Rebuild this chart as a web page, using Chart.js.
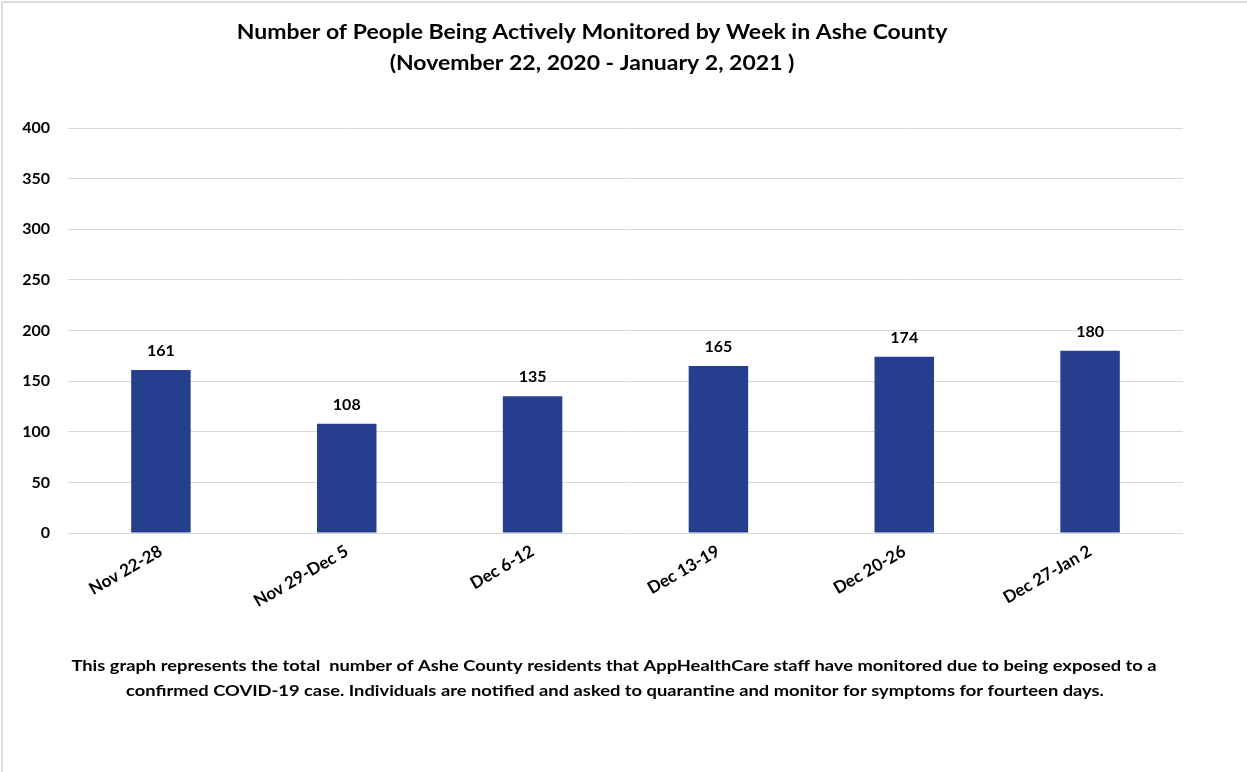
<!DOCTYPE html>
<html>
<head>
<meta charset="utf-8">
<script src="https://cdn.jsdelivr.net/npm/chart.js@4/dist/chart.umd.min.js"></script>
<style>
  html, body { margin: 0; padding: 0; background: #fff; }
  #wrap { width: 1247px; height: 772px; position: relative; }
</style>
</head>
<body>
<div id="wrap"><canvas id="chart"></canvas></div>
<script>
const weeks = ["Nov 22-28", "Nov 29-Dec 5", "Dec 6-12", "Dec 13-19", "Dec 20-26", "Dec 27-Jan 2"];
const monitored = [161, 108, 135, 165, 174, 180];
const titleLines = [
  "Number of People Being Actively Monitored by Week in Ashe County",
  "(November 22, 2020 - January 2, 2021 )"
];
const noteLines = [
  "This graph represents the total  number of Ashe County residents that AppHealthCare staff have monitored due to being exposed to a",
  "confirmed COVID-19 case. Individuals are notified and asked to quarantine and monitor for symptoms for fourteen days."
];

const FONT = "Lato, 'Open Sans', sans-serif";
const barColor = "#253F8E";

// the reference text is a narrow-ish face set wide, so stretch Lato a bit
function drawStretched(ctx, text, x, y, sx) {
  ctx.save();
  ctx.translate(x, y);
  ctx.scale(sx, 1);
  ctx.fillText(text, 0, 0);
  ctx.restore();
}

// white page, thin frame on the left and top, title and note text
const pagePlugin = {
  id: "page",
  beforeDraw(chart) {
    const ctx = chart.ctx;
    ctx.save();
    ctx.fillStyle = "#fff";
    ctx.fillRect(0, 0, chart.width, chart.height);
    ctx.strokeStyle = "#dcdcdc";
    ctx.lineWidth = 2;
    ctx.beginPath();
    ctx.moveTo(2, chart.height);
    ctx.lineTo(2, 2);
    ctx.lineTo(chart.width, 2);
    ctx.stroke();
    ctx.restore();
  },
  afterDraw(chart) {
    const ctx = chart.ctx;
    ctx.save();
    ctx.fillStyle = "#000";
    ctx.textAlign = "center";
    ctx.textBaseline = "middle";
    ctx.font = "bold 20px " + FONT;
    drawStretched(ctx, titleLines[0], 592, 33, 1.15);
    drawStretched(ctx, titleLines[1], 592, 64, 1.15);
    ctx.font = "bold 16px " + FONT;
    drawStretched(ctx, noteLines[0], 614, 666, 1.145);
    drawStretched(ctx, noteLines[1], 615, 691, 1.145);
    ctx.restore();
  }
};

// value above each bar
const valueLabels = {
  id: "valueLabels",
  afterDatasetsDraw(chart) {
    const ctx = chart.ctx;
    const meta = chart.getDatasetMeta(0);
    ctx.save();
    ctx.fillStyle = "#000";
    ctx.font = "bold 16px " + FONT;
    ctx.textAlign = "center";
    ctx.textBaseline = "middle";
    meta.data.forEach((bar, i) => {
      ctx.fillText(monitored[i], bar.x, bar.y - 19);
    });
    ctx.restore();
  }
};

new Chart(document.getElementById("chart").getContext("2d"), {
  type: "bar",
  data: {
    labels: weeks,
    datasets: [{
      data: monitored,
      backgroundColor: barColor,
      borderWidth: 0,
      categoryPercentage: 1,
      barPercentage: 0.32
    }]
  },
  options: {
    responsive: true,
    maintainAspectRatio: false,
    animation: false,
    layout: { padding: { top: 128, right: 64, bottom: 159, left: 0 } },
    plugins: {
      legend: { display: false },
      title: { display: false },
      tooltip: { enabled: false }
    },
    scales: {
      x: {
        grid: { display: false },
        border: { display: false },
        ticks: {
          color: "#000",
          font: { family: FONT, size: 17, weight: "bold" },
          minRotation: 30,
          maxRotation: 30,
          autoSkip: false,
          padding: 0
        },
        afterFit(scale) { scale.height = 80; }
      },
      y: {
        min: 0,
        max: 400,
        grid: { color: "#d9d9d9", lineWidth: 1, drawTicks: false },
        border: { display: false },
        ticks: {
          stepSize: 50,
          color: "#000",
          font: { family: FONT, size: 16, weight: "bold" },
          padding: 18
        },
        afterFit(scale) { scale.width = 68; }
      }
    }
  },
  plugins: [pagePlugin, valueLabels]
});
</script>
</body>
</html>
